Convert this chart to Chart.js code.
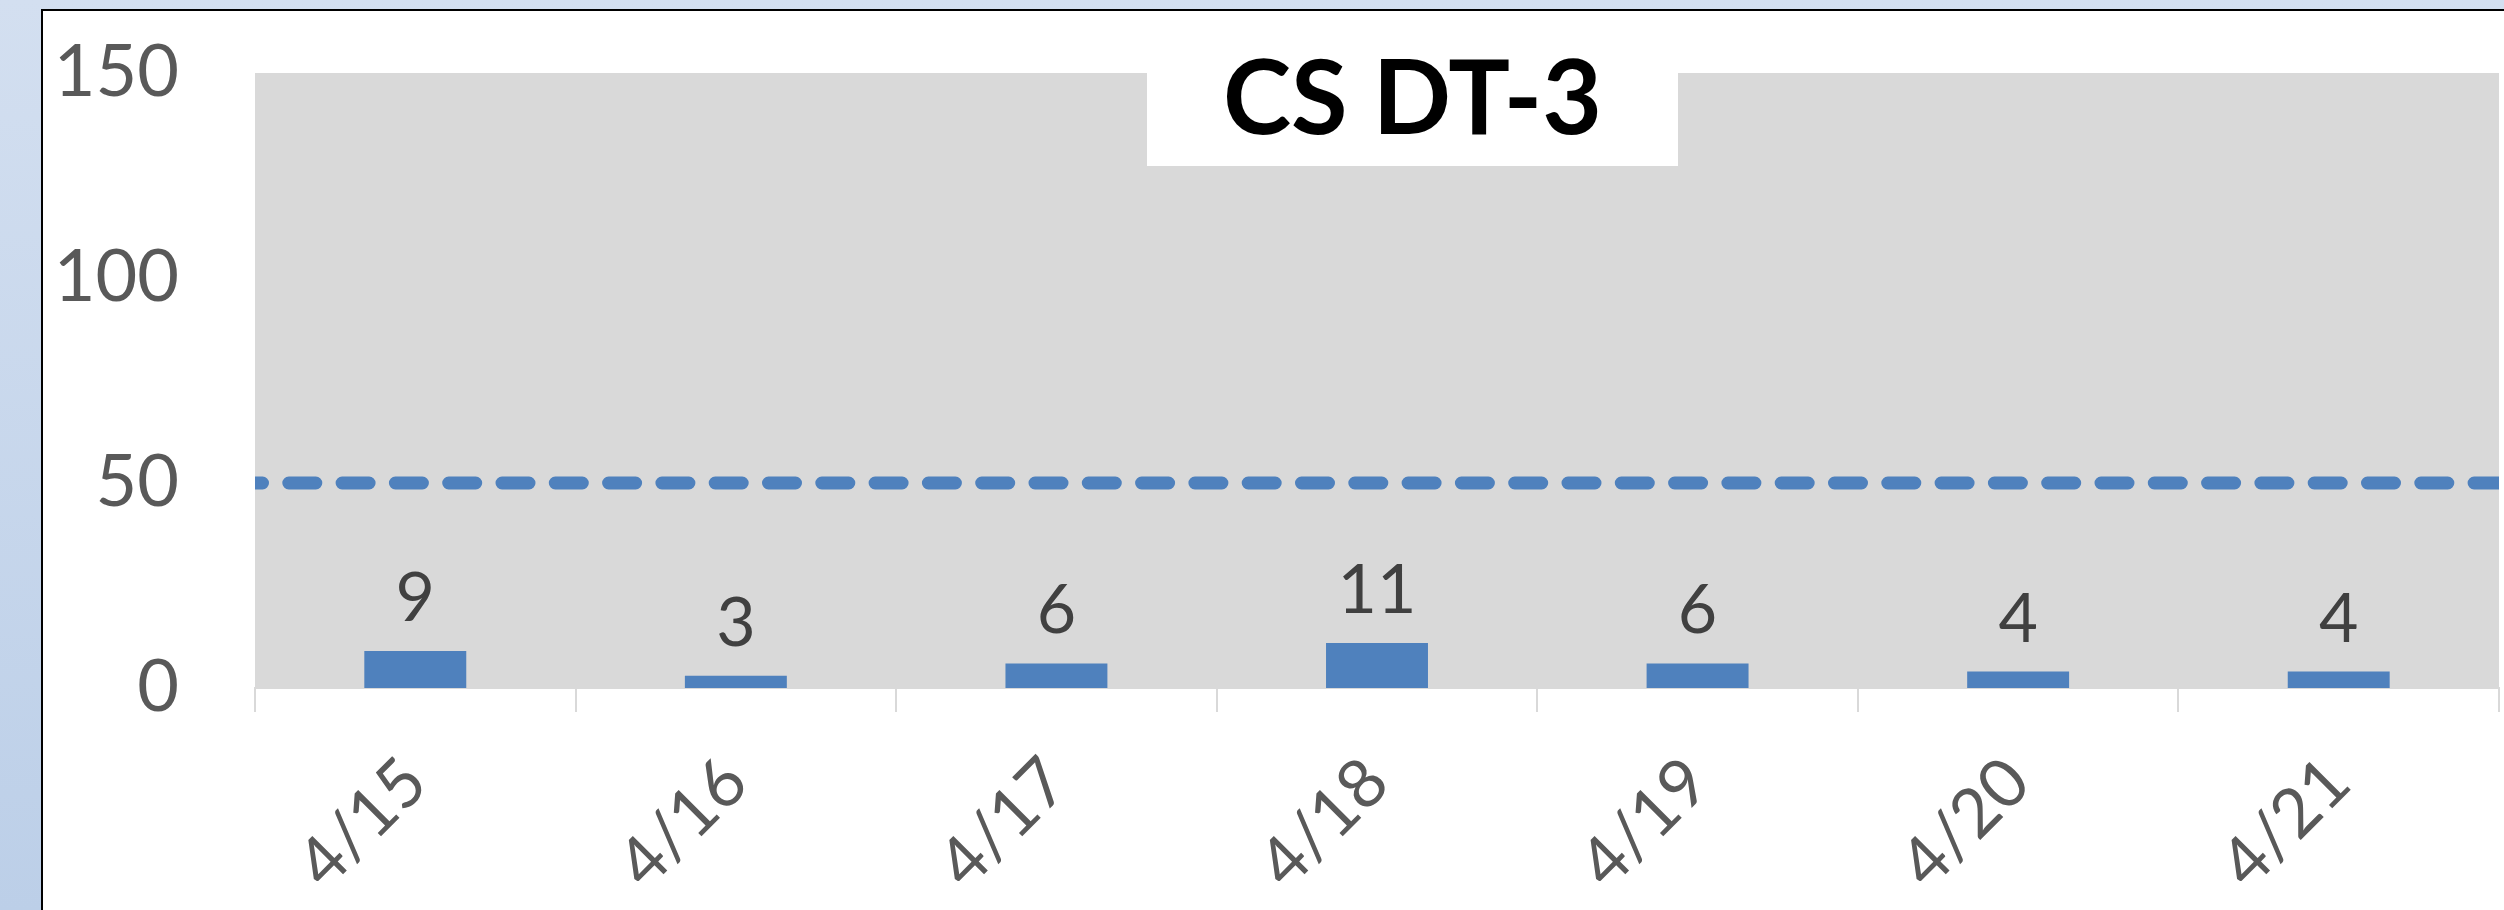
<!DOCTYPE html>
<html>
<head>
<meta charset="utf-8">
<script src="https://cdn.jsdelivr.net/npm/chart.js@4.4.1/dist/chart.umd.min.js"></script>
<style>
    html, body { margin: 0; padding: 0; width: 2504px; height: 910px; overflow: hidden; }
    body { position: relative; background: linear-gradient(to bottom, #d3dff0, #bccfe8); }
    #frame { position: absolute; left: 41px; top: 9px; width: 2600px; height: 1000px; background: #fff; border: 2px solid #000; }
    #wrap { position: absolute; left: 0; top: 0; width: 2504px; height: 910px; }
    #chartTitle { position: absolute; left: 1147px; top: 23px; width: 531px; height: 143px; background: #fff;
        font-family: Lato, sans-serif; font-weight: bold; font-size: 103px; line-height: 143px; color: #000; text-align: center; }
</style>
</head>
<body>
<div id="frame"></div>
<div id="wrap"><canvas id="myChart" width="2504" height="910"></canvas></div>
<div id="chartTitle">CS DT-3</div>
<script>
// data
var dates = ['4/15', '4/16', '4/17', '4/18', '4/19', '4/20', '4/21'];
var counts = [9, 3, 6, 11, 6, 4, 4];
var target = [50, 50, 50, 50, 50, 50, 50];
var yTicks = [0, 50, 100, 150];

// grey plot area
var plotBg = {
    id: 'plotBg',
    beforeDraw: function (chart) {
        var a = chart.chartArea, c = chart.ctx;
        c.save();
        c.fillStyle = '#d9d9d9';
        c.fillRect(a.left, a.top, a.right - a.left, a.bottom - a.top);
        c.restore();
    }
};

// value above every bar
var barLabels = {
    id: 'barLabels',
    afterDatasetsDraw: function (chart) {
        var meta = chart.getDatasetMeta(0), c = chart.ctx;
        c.save();
        c.font = '68px Lato';
        c.fillStyle = '#404040';
        c.textAlign = 'center';
        c.textBaseline = 'alphabetic';
        meta.data.forEach(function (bar, i) {
            c.fillText(counts[i], bar.x, bar.y - 30);
        });
        c.restore();
    }
};

function drawChart() {
    var ctx = document.getElementById('myChart').getContext('2d');
    var chart = new Chart(ctx, {
        type: 'bar',
        data: {
            labels: dates,
            datasets: [{
                label: 'CS DT-3',
                data: counts,
                backgroundColor: '#4f81bd',
                grouped: false,
                categoryPercentage: 1,
                barPercentage: 0.318
            }, {
                type: 'line',
                label: 'Target',
                data: target,
                xAxisID: 'x2',
                borderColor: '#4f81bd',
                borderWidth: 13,
                borderDash: [27, 26.3],
                borderDashOffset: 19.5,
                borderCapStyle: 'round',
                pointRadius: 0,
                fill: false,
                clip: 0
            }]
        },
        options: {
            responsive: false,
            animation: false,
            devicePixelRatio: 1,
            layout: { padding: { left: 0, top: 73, right: 5, bottom: 0 } },
            plugins: { legend: { display: false }, tooltip: { enabled: false } },
            scales: {
                x: {
                    offset: true,
                    grid: { display: true, drawOnChartArea: false, drawTicks: true, tickLength: 24, color: '#d9d9d9', lineWidth: 2, offset: true },
                    border: { display: true, color: '#d9d9d9', width: 2 },
                    ticks: { color: '#595959', font: { family: 'Lato', size: 68 }, maxRotation: 45, minRotation: 45, padding: 30, autoSkip: false },
                    afterFit: function (s) { s.height = 910 - 688; s.paddingLeft = 0; s.paddingRight = 0; }
                },
                x2: { type: 'category', labels: dates, offset: false, display: false },
                y: {
                    min: 0, max: 150,
                    grid: { display: false, drawTicks: false },
                    border: { display: false },
                    ticks: { color: '#595959', font: { family: 'Lato', size: 72 }, padding: 76 },
                    afterBuildTicks: function (axis) { axis.ticks = yTicks.map(function (v) { return { value: v }; }); },
                    afterFit: function (s) { s.width = 255; s.paddingTop = 0; s.paddingBottom = 0; }
                }
            }
        },
        plugins: [plotBg, barLabels]
    });
}

if (document.fonts && document.fonts.load) {
    Promise.all([document.fonts.load('68px Lato'), document.fonts.load('bold 103px Lato')]).then(drawChart, drawChart);
} else {
    drawChart();
}
</script>
</body>
</html>
